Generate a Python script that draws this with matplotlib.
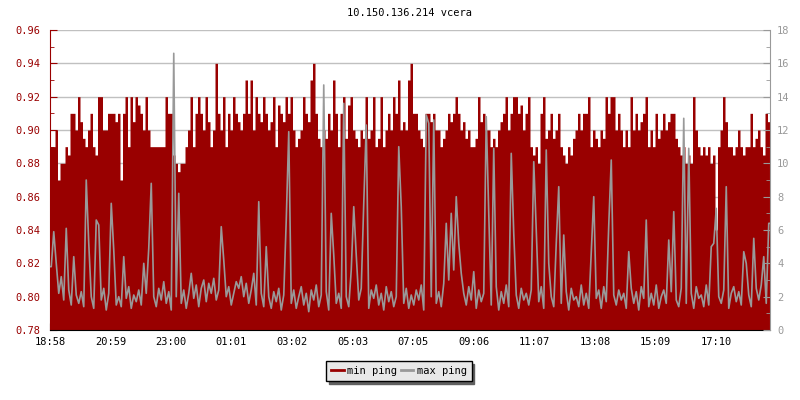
import matplotlib
matplotlib.use('Agg')
import matplotlib.pyplot as plt
import numpy as np
from matplotlib.lines import Line2D
from matplotlib.ticker import MultipleLocator, FormatStrFormatter

title = '10.150.136.214 vcera'
start_time = '18:58'
time_labels = ['18:58', '20:59', '23:00', '01:01', '03:02', '05:03',
               '07:05', '09:06', '11:07', '13:08', '15:09', '17:10']
step_min = 5  # one sample every 5 minutes

# min ping (left axis)
min_ping = [
    0.89, 0.89, 0.90, 0.87, 0.88, 0.88, 0.89, 0.885, 0.91, 0.91, 0.90, 0.92,
    0.905, 0.895, 0.89, 0.90, 0.91, 0.89, 0.885, 0.92, 0.92, 0.90, 0.90, 0.91,
    0.91, 0.91, 0.905, 0.91, 0.87, 0.91, 0.92, 0.89, 0.92, 0.905, 0.92, 0.915,
    0.91, 0.90, 0.92, 0.90, 0.89, 0.89, 0.89, 0.89, 0.89, 0.89, 0.92, 0.91,
    0.91, 0.885, 0.88, 0.875, 0.88, 0.88, 0.89, 0.90, 0.92, 0.89, 0.91, 0.92,
    0.91, 0.90, 0.92, 0.905, 0.89, 0.90, 0.94, 0.91, 0.90, 0.92, 0.89, 0.91,
    0.90, 0.92, 0.91, 0.905, 0.90, 0.91, 0.93, 0.91, 0.93, 0.90, 0.92, 0.91,
    0.905, 0.92, 0.91, 0.90, 0.905, 0.92, 0.89, 0.915, 0.91, 0.905, 0.92, 0.91,
    0.92, 0.90, 0.89, 0.895, 0.90, 0.92, 0.91, 0.905, 0.93, 0.94, 0.91, 0.895,
    0.89, 0.90, 0.895, 0.91, 0.90, 0.93, 0.91, 0.89, 0.91, 0.92, 0.895, 0.915,
    0.92, 0.90, 0.895, 0.89, 0.90, 0.895, 0.92, 0.895, 0.90, 0.92, 0.89, 0.895,
    0.92, 0.89, 0.90, 0.91, 0.90, 0.92, 0.91, 0.93, 0.90, 0.905, 0.90, 0.93,
    0.94, 0.91, 0.91, 0.90, 0.895, 0.89, 0.91, 0.91, 0.905, 0.91, 0.90, 0.90,
    0.89, 0.895, 0.90, 0.91, 0.905, 0.91, 0.92, 0.91, 0.90, 0.905, 0.895, 0.90,
    0.89, 0.89, 0.895, 0.92, 0.905, 0.91, 0.90, 0.90, 0.89, 0.895, 0.89, 0.90,
    0.905, 0.91, 0.92, 0.90, 0.91, 0.92, 0.92, 0.91, 0.915, 0.90, 0.91, 0.92,
    0.89, 0.885, 0.89, 0.88, 0.91, 0.92, 0.895, 0.90, 0.91, 0.895, 0.90, 0.91,
    0.89, 0.885, 0.88, 0.89, 0.885, 0.895, 0.90, 0.91, 0.90, 0.91, 0.91, 0.92,
    0.89, 0.90, 0.895, 0.89, 0.90, 0.895, 0.92, 0.91, 0.92, 0.92, 0.90, 0.91,
    0.90, 0.89, 0.90, 0.89, 0.92, 0.90, 0.91, 0.90, 0.905, 0.91, 0.92, 0.89,
    0.90, 0.89, 0.91, 0.895, 0.90, 0.91, 0.90, 0.905, 0.91, 0.91, 0.895, 0.89,
    0.885, 0.89, 0.88, 0.885, 0.88, 0.92, 0.90, 0.89, 0.885, 0.89, 0.885, 0.89,
    0.88, 0.885, 0.84, 0.89, 0.90, 0.92, 0.905, 0.89, 0.89, 0.885, 0.89, 0.90,
    0.89, 0.885, 0.89, 0.89, 0.91, 0.89, 0.895, 0.90, 0.89, 0.885, 0.91, 0.905,
]

# max ping (right axis)
max_ping = [
    3.8, 5.9, 4.0, 2.2, 3.2, 1.8, 6.1, 2.4, 1.5, 4.4, 2.1, 1.6,
    2.3, 1.4, 9.0, 5.2, 2.0, 1.3, 6.6, 6.3, 1.8, 2.5, 1.2, 2.2,
    7.6, 4.8, 1.5, 2.0, 1.4, 4.4, 1.9, 2.6, 1.3, 2.1, 1.7, 2.4,
    1.5, 4.0, 2.2, 4.9, 8.8, 2.0, 1.4, 2.5, 1.8, 2.9, 1.6, 2.3,
    1.2, 16.6, 2.0, 8.2, 1.6, 2.4, 1.3, 2.2, 3.4, 1.9, 2.7, 1.4,
    2.5, 3.0, 1.7, 2.8, 2.2, 3.1, 1.8, 2.4, 6.2, 4.2, 2.0, 2.6,
    1.5, 2.2, 2.9, 2.5, 3.2, 2.0, 2.8, 1.6, 2.4, 3.4, 1.5, 7.7,
    2.2, 1.4, 5.0, 2.0, 1.3, 2.3, 1.7, 2.5, 1.2, 2.1, 6.6, 11.9,
    1.6, 2.4, 1.3, 2.0, 2.6, 1.5, 2.2, 1.1, 2.4, 1.8, 2.7, 1.4,
    2.1, 14.7, 2.3, 1.2, 7.0, 4.5, 1.6, 2.2, 1.3, 13.6, 2.0, 1.4,
    3.6, 7.4, 4.5, 1.8, 2.5, 7.6, 12.3, 1.3, 2.4, 1.9, 2.7, 1.5,
    2.2, 1.2, 2.6, 1.7, 2.3, 1.4, 2.0, 11.0, 7.4, 1.6, 2.5, 1.3,
    2.1, 1.5, 2.4, 1.8, 2.7, 1.2, 12.9, 12.4, 2.0, 12.6, 1.6, 2.3,
    1.4, 2.8, 6.4, 3.0, 7.0, 3.6, 8.0, 5.2, 3.4, 2.2, 1.5, 2.6,
    1.8, 3.5, 1.3, 2.4, 1.7, 2.2, 12.8, 7.0, 1.5, 10.9, 2.6, 1.2,
    2.3, 1.6, 2.7, 1.4, 10.6, 5.8, 2.1, 1.3, 2.5, 1.8, 2.2, 1.5,
    2.4, 10.1, 6.0, 1.7, 2.6, 1.3, 10.8, 4.0, 2.0, 1.4, 5.2, 8.6,
    1.6, 5.7, 2.3, 1.2, 2.5, 1.8, 2.0, 1.4, 2.7, 1.5, 2.2, 1.3,
    4.7, 8.0, 1.9, 2.4, 1.3, 2.6, 1.7, 6.3, 10.2, 2.1, 1.5, 2.4,
    1.8, 2.2, 1.3, 4.7, 2.5, 1.6, 2.3, 1.2, 2.6, 1.9, 6.6, 1.4,
    2.2, 1.5, 2.7, 1.3, 2.0, 2.4, 1.6, 5.4, 2.3, 7.1, 1.8, 1.4,
    2.5, 12.7, 1.6, 10.9, 2.2, 1.3, 2.6, 1.9, 2.1, 1.4, 2.7, 1.5,
    5.0, 5.2, 7.3, 2.0, 1.6, 2.4, 8.6, 1.3, 2.2, 2.6, 1.7, 2.3,
    1.5, 4.7, 4.0, 2.1, 1.4, 5.5, 2.5, 1.8, 2.7, 4.4, 1.6, 6.4,
]

RED = '#990000'
GREY = '#999999'

plt.rcParams['font.family'] = 'DejaVu Sans Mono'
plt.rcParams['font.size'] = 7.5


def minutes_from_start(label):
    h, m = map(int, label.split(':'))
    h0, m0 = map(int, start_time.split(':'))
    return (h * 60 + m - (h0 * 60 + m0)) % 1440


fig = plt.figure(figsize=(8, 4), dpi=100)
ax = fig.add_axes([0.0625, 0.175, 0.9, 0.75])

# sample start times; min ping drawn as steps, max ping through step centres
t = np.arange(len(min_ping) + 1) * step_min
lo = np.append(min_ping, min_ping[-1])
t_mid = np.concatenate([[0], t[:-1] + step_min / 2, [t[-1]]])
hi = np.concatenate([[max_ping[0]], max_ping, [max_ping[-1]]])

ax.fill_between(t, 0.78, lo, step='post', color=RED, lw=0)
ax.set_xlim(0, 1440)
ax.set_ylim(0.78, 0.96)
ax.set_axisbelow(True)
ax.yaxis.set_major_locator(MultipleLocator(0.02))
ax.yaxis.set_minor_locator(MultipleLocator(0.01))
ax.yaxis.set_major_formatter(FormatStrFormatter('%.2f'))
ax.grid(axis='y', color='#c0c0c0', lw=1)
ax.set_xticks([minutes_from_start(s) for s in time_labels])
ax.set_xticklabels(time_labels)
ax.tick_params(axis='y', which='both', direction='in', colors=RED, pad=7)
ax.tick_params(axis='y', which='major', length=5)
ax.tick_params(axis='y', which='minor', length=3)
ax.tick_params(axis='x', direction='in', length=5, colors='black', pad=5)
ax.spines['left'].set_color(RED)
ax.spines['bottom'].set_color('black')
ax.spines['top'].set_visible(False)
ax.spines['right'].set_visible(False)

ax2 = ax.twinx()
ax2.plot(t_mid, hi, color=GREY, lw=1.2)
ax2.set_ylim(0, 18)
ax2.yaxis.set_major_locator(MultipleLocator(2))
ax2.yaxis.set_minor_locator(MultipleLocator(1))
ax2.tick_params(axis='y', which='both', direction='in', colors=GREY, pad=5)
ax2.tick_params(axis='y', which='major', length=5)
ax2.tick_params(axis='y', which='minor', length=3)
for s in ['left', 'top', 'bottom']:
    ax2.spines[s].set_visible(False)
ax2.spines['right'].set_color(GREY)

fig.text(0.5125, 0.9675, title, ha='center', va='center', fontsize=7.5)

handles = [Line2D([], [], color=RED, lw=2), Line2D([], [], color=GREY, lw=2)]
leg = fig.legend(handles, ['min ping', 'max ping'], loc='center',
                 bbox_to_anchor=(0.4985, 0.0725), ncol=2, frameon=True,
                 fancybox=False, edgecolor='black', facecolor='#e8e8e8',
                 framealpha=1, shadow={'color': '#606060', 'alpha': 1},
                 handlelength=1.2, handletextpad=0.3, columnspacing=0.4,
                 borderpad=0.5)
leg.get_frame().set_linewidth(1)

fig.savefig('out.png', dpi=100)
